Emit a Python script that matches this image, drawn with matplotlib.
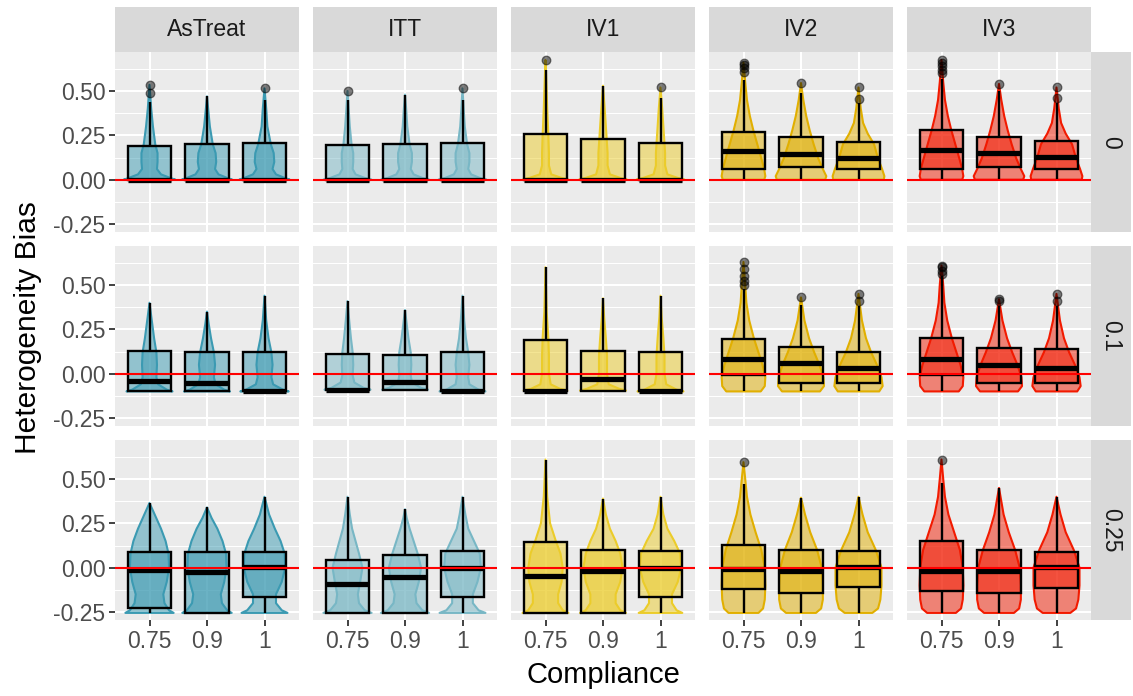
import matplotlib
matplotlib.use("Agg")
import matplotlib.pyplot as plt
from matplotlib.patches import Rectangle, Polygon

plt.rcParams['font.family'] = ['Liberation Sans', 'DejaVu Sans']

methods = ["AsTreat", "ITT", "IV1", "IV2", "IV3"]
het_levels = ["0", "0.1", "0.25"]
compliance = ["0.75", "0.9", "1"]
colors = ["#3B9AB2", "#78B7C5", "#EBCC2A", "#E1AF00", "#F21A00"]

# box stats, [row][method] -> one value per compliance level
wlo = [
    [[0, 0, 0], [0, 0, 0], [0, 0, 0], [0, 0, 0], [0, 0, 0]],
    [[-0.1, -0.1, -0.1], [-0.09, -0.09, -0.1], [-0.095, -0.095, -0.1], [-0.1, -0.1, -0.1], [-0.1, -0.1, -0.1]],
    [[-0.255, -0.255, -0.255]] * 5,
]
q1 = [
    [[0, 0, 0], [0, 0, 0], [0, 0, 0], [0.06, 0.07, 0.06], [0.06, 0.07, 0.06]],
    [[-0.1, -0.1, -0.1], [-0.09, -0.09, -0.1], [-0.095, -0.095, -0.1], [-0.01, -0.05, -0.055], [-0.01, -0.05, -0.055]],
    [[-0.23, -0.255, -0.165], [-0.255, -0.255, -0.165], [-0.255, -0.255, -0.165], [-0.12, -0.145, -0.11], [-0.13, -0.14, -0.115]],
]
med = [
    [[0, 0, 0], [0, 0, 0], [0, 0, 0], [0.16, 0.145, 0.125], [0.17, 0.15, 0.13]],
    [[-0.04, -0.05, -0.1], [-0.09, -0.045, -0.1], [-0.095, -0.03, -0.1], [0.08, 0.06, 0.03], [0.085, 0.05, 0.03]],
    [[-0.015, -0.025, 0.005], [-0.09, -0.05, 0.0], [-0.045, -0.02, 0.0], [-0.01, -0.02, 0.005], [-0.017, -0.017, 0.005]],
]
q3 = [
    [[0.19, 0.20, 0.205], [0.195, 0.20, 0.205], [0.26, 0.23, 0.205], [0.27, 0.24, 0.215], [0.28, 0.24, 0.22]],
    [[0.13, 0.12, 0.12], [0.11, 0.105, 0.12], [0.19, 0.13, 0.12], [0.195, 0.15, 0.125], [0.2, 0.145, 0.14]],
    [[0.09, 0.09, 0.09], [0.045, 0.07, 0.095], [0.145, 0.10, 0.095], [0.13, 0.10, 0.095], [0.148, 0.10, 0.09]],
]
whi = [
    [[0.44, 0.47, 0.45], [0.45, 0.48, 0.45], [0.62, 0.53, 0.46], [0.56, 0.49, 0.43], [0.57, 0.50, 0.43]],
    [[0.40, 0.35, 0.44], [0.41, 0.36, 0.44], [0.60, 0.425, 0.44], [0.48, 0.39, 0.38], [0.55, 0.38, 0.38]],
    [[0.365, 0.34, 0.40], [0.40, 0.33, 0.40], [0.61, 0.39, 0.40], [0.47, 0.395, 0.40], [0.48, 0.45, 0.40]],
]
outliers = [
    [[[0.49, 0.535], [], [0.515]], [[0.50], [], [0.515]], [[0.675], [], [0.52]],
     [[0.61, 0.63, 0.645, 0.66], [0.545], [0.455, 0.52]], [[0.60, 0.62, 0.64, 0.66, 0.675], [0.54], [0.46, 0.52]]],
    [[[], [], []], [[], [], []], [[], [], []],
     [[0.50, 0.52, 0.55, 0.59, 0.63], [0.43], [0.41, 0.45]], [[0.56, 0.58, 0.60, 0.61], [0.41, 0.42], [0.41, 0.45]]],
    [[[], [], []], [[], [], []], [[], [], []], [[0.595], [], []], [[0.61], [], []]],
]

# violin outlines: (values, half widths)
violins = [
    [  # heterogeneity 0
        [([0, 0.01, 0.03, 0.06, 0.10, 0.15, 0.20, 0.30, 0.40, 0.535], [0.45, 0.36, 0.2, 0.13, 0.14, 0.14, 0.10, 0.06, 0.03, 0]),
         ([0, 0.01, 0.03, 0.06, 0.10, 0.15, 0.20, 0.30, 0.40, 0.47], [0.44, 0.35, 0.2, 0.14, 0.16, 0.15, 0.10, 0.05, 0.02, 0]),
         ([0, 0.01, 0.03, 0.06, 0.10, 0.15, 0.20, 0.30, 0.40, 0.515], [0.44, 0.35, 0.2, 0.14, 0.17, 0.16, 0.11, 0.05, 0.03, 0])],
        [([0, 0.01, 0.03, 0.06, 0.10, 0.15, 0.20, 0.30, 0.40, 0.50], [0.42, 0.3, 0.14, 0.09, 0.1, 0.1, 0.07, 0.04, 0.02, 0]),
         ([0, 0.01, 0.03, 0.06, 0.10, 0.15, 0.20, 0.30, 0.40, 0.48], [0.42, 0.3, 0.15, 0.1, 0.12, 0.12, 0.08, 0.04, 0.02, 0]),
         ([0, 0.01, 0.03, 0.06, 0.10, 0.15, 0.20, 0.30, 0.40, 0.515], [0.42, 0.3, 0.15, 0.1, 0.12, 0.12, 0.08, 0.04, 0.02, 0])],
        [([0, 0.01, 0.03, 0.08, 0.15, 0.25, 0.40, 0.55, 0.675], [0.40, 0.28, 0.1, 0.06, 0.06, 0.05, 0.03, 0.015, 0]),
         ([0, 0.01, 0.03, 0.08, 0.15, 0.25, 0.40, 0.53], [0.42, 0.3, 0.12, 0.08, 0.08, 0.06, 0.03, 0]),
         ([0, 0.01, 0.03, 0.08, 0.15, 0.25, 0.40, 0.52], [0.42, 0.3, 0.12, 0.08, 0.08, 0.06, 0.03, 0])],
        [([0, 0.02, 0.06, 0.12, 0.20, 0.28, 0.36, 0.45, 0.55, 0.66], [0.36, 0.38, 0.36, 0.31, 0.24, 0.17, 0.11, 0.06, 0.03, 0]),
         ([0, 0.02, 0.06, 0.12, 0.20, 0.28, 0.36, 0.45, 0.545], [0.42, 0.44, 0.38, 0.3, 0.22, 0.15, 0.09, 0.04, 0]),
         ([0, 0.02, 0.06, 0.12, 0.20, 0.26, 0.32, 0.40, 0.52], [0.44, 0.45, 0.41, 0.34, 0.27, 0.16, 0.08, 0.04, 0])],
        [([0, 0.02, 0.06, 0.12, 0.20, 0.28, 0.36, 0.45, 0.55, 0.675], [0.36, 0.38, 0.36, 0.31, 0.24, 0.17, 0.11, 0.06, 0.03, 0]),
         ([0, 0.02, 0.06, 0.12, 0.20, 0.28, 0.36, 0.45, 0.54], [0.42, 0.44, 0.38, 0.3, 0.22, 0.15, 0.09, 0.04, 0]),
         ([0, 0.02, 0.06, 0.12, 0.20, 0.26, 0.32, 0.40, 0.52], [0.44, 0.45, 0.41, 0.34, 0.27, 0.16, 0.08, 0.04, 0])],
    ],
    [  # heterogeneity 0.1
        [([-0.1, -0.09, -0.06, -0.02, 0.05, 0.12, 0.20, 0.30, 0.40], [0.4, 0.3, 0.15, 0.12, 0.13, 0.12, 0.08, 0.04, 0]),
         ([-0.1, -0.09, -0.06, -0.02, 0.05, 0.12, 0.20, 0.28, 0.35], [0.4, 0.3, 0.15, 0.12, 0.14, 0.12, 0.07, 0.03, 0]),
         ([-0.1, -0.09, -0.06, -0.02, 0.05, 0.12, 0.20, 0.30, 0.44], [0.42, 0.32, 0.15, 0.12, 0.14, 0.12, 0.07, 0.03, 0])],
        [([-0.09, -0.08, -0.05, -0.01, 0.05, 0.12, 0.20, 0.30, 0.41], [0.4, 0.28, 0.12, 0.09, 0.1, 0.09, 0.06, 0.03, 0]),
         ([-0.09, -0.08, -0.05, -0.01, 0.05, 0.12, 0.20, 0.28, 0.36], [0.4, 0.28, 0.12, 0.1, 0.11, 0.1, 0.06, 0.03, 0]),
         ([-0.1, -0.09, -0.06, -0.02, 0.05, 0.12, 0.20, 0.30, 0.44], [0.4, 0.28, 0.12, 0.1, 0.12, 0.1, 0.06, 0.03, 0])],
        [([-0.095, -0.085, -0.06, 0.0, 0.1, 0.2, 0.35, 0.6], [0.38, 0.25, 0.09, 0.06, 0.06, 0.05, 0.02, 0]),
         ([-0.095, -0.085, -0.06, 0.0, 0.1, 0.2, 0.32, 0.425], [0.4, 0.28, 0.1, 0.07, 0.07, 0.05, 0.02, 0]),
         ([-0.1, -0.09, -0.06, 0.0, 0.1, 0.2, 0.32, 0.44], [0.4, 0.28, 0.1, 0.07, 0.07, 0.05, 0.02, 0])],
        [([-0.1, -0.07, -0.02, 0.05, 0.12, 0.20, 0.30, 0.40, 0.50, 0.63], [0.3, 0.37, 0.38, 0.33, 0.26, 0.18, 0.1, 0.05, 0.03, 0]),
         ([-0.1, -0.07, -0.02, 0.05, 0.12, 0.20, 0.30, 0.43], [0.33, 0.4, 0.39, 0.32, 0.23, 0.14, 0.06, 0]),
         ([-0.1, -0.07, -0.02, 0.05, 0.12, 0.20, 0.30, 0.45], [0.36, 0.42, 0.4, 0.32, 0.22, 0.13, 0.06, 0])],
        [([-0.1, -0.07, -0.02, 0.05, 0.12, 0.20, 0.30, 0.40, 0.50, 0.61], [0.3, 0.37, 0.38, 0.33, 0.26, 0.18, 0.1, 0.05, 0.03, 0]),
         ([-0.1, -0.07, -0.02, 0.05, 0.12, 0.20, 0.30, 0.42], [0.33, 0.4, 0.39, 0.32, 0.23, 0.14, 0.06, 0]),
         ([-0.1, -0.07, -0.02, 0.05, 0.12, 0.20, 0.30, 0.45], [0.36, 0.42, 0.4, 0.32, 0.22, 0.13, 0.06, 0])],
    ],
    [  # heterogeneity 0.25
        [([-0.255, -0.24, -0.2, -0.15, -0.08, 0.0, 0.08, 0.15, 0.22, 0.30, 0.365], [0.42, 0.34, 0.26, 0.24, 0.3, 0.34, 0.33, 0.28, 0.2, 0.09, 0]),
         ([-0.255, -0.24, -0.2, -0.15, -0.08, 0.0, 0.08, 0.15, 0.22, 0.28, 0.34], [0.43, 0.35, 0.26, 0.24, 0.3, 0.34, 0.33, 0.27, 0.18, 0.08, 0]),
         ([-0.255, -0.24, -0.2, -0.15, -0.08, 0.0, 0.08, 0.15, 0.22, 0.30, 0.40], [0.4, 0.3, 0.2, 0.2, 0.3, 0.36, 0.35, 0.28, 0.18, 0.08, 0])],
        [([-0.255, -0.24, -0.2, -0.15, -0.08, 0.0, 0.08, 0.15, 0.22, 0.30, 0.40], [0.42, 0.3, 0.2, 0.18, 0.22, 0.26, 0.2, 0.14, 0.08, 0.04, 0]),
         ([-0.255, -0.24, -0.2, -0.15, -0.08, 0.0, 0.08, 0.15, 0.22, 0.28, 0.33], [0.42, 0.3, 0.2, 0.18, 0.24, 0.28, 0.22, 0.15, 0.08, 0.03, 0]),
         ([-0.255, -0.24, -0.2, -0.15, -0.08, 0.0, 0.08, 0.15, 0.22, 0.30, 0.40], [0.4, 0.28, 0.18, 0.18, 0.26, 0.32, 0.3, 0.2, 0.1, 0.05, 0])],
        [([-0.255, -0.24, -0.2, -0.15, -0.08, 0.0, 0.08, 0.15, 0.25, 0.40, 0.61], [0.4, 0.3, 0.22, 0.22, 0.28, 0.3, 0.26, 0.18, 0.08, 0.03, 0]),
         ([-0.255, -0.24, -0.2, -0.15, -0.08, 0.0, 0.08, 0.15, 0.22, 0.30, 0.39], [0.4, 0.3, 0.22, 0.22, 0.3, 0.34, 0.3, 0.22, 0.12, 0.05, 0]),
         ([-0.255, -0.24, -0.2, -0.15, -0.08, 0.0, 0.08, 0.15, 0.22, 0.30, 0.40], [0.38, 0.28, 0.2, 0.2, 0.3, 0.36, 0.34, 0.24, 0.12, 0.05, 0])],
        [([-0.255, -0.23, -0.18, -0.1, 0.0, 0.1, 0.2, 0.3, 0.4, 0.5, 0.595], [0.26, 0.34, 0.37, 0.38, 0.37, 0.31, 0.21, 0.12, 0.06, 0.03, 0]),
         ([-0.255, -0.23, -0.18, -0.1, 0.0, 0.1, 0.2, 0.3, 0.395], [0.26, 0.35, 0.38, 0.38, 0.36, 0.28, 0.16, 0.07, 0]),
         ([-0.255, -0.23, -0.18, -0.1, 0.0, 0.1, 0.2, 0.3, 0.40], [0.24, 0.34, 0.38, 0.4, 0.4, 0.3, 0.16, 0.07, 0])],
        [([-0.255, -0.23, -0.18, -0.1, 0.0, 0.1, 0.2, 0.3, 0.4, 0.5, 0.61], [0.25, 0.34, 0.37, 0.38, 0.37, 0.32, 0.22, 0.12, 0.06, 0.03, 0]),
         ([-0.255, -0.23, -0.18, -0.1, 0.0, 0.1, 0.2, 0.3, 0.45], [0.26, 0.35, 0.38, 0.38, 0.36, 0.28, 0.17, 0.08, 0]),
         ([-0.255, -0.23, -0.18, -0.1, 0.0, 0.1, 0.2, 0.3, 0.40], [0.24, 0.34, 0.38, 0.4, 0.4, 0.3, 0.16, 0.07, 0])],
    ],
]

W, H = 1133, 696
PANEL_L = [115, 313, 511, 709, 907]
PANEL_T = [52, 246, 440]
PW, PH = 184, 180
TICK_COL = "#4D4D4D"


def px_axes(fig, left, top, width, height):
    return fig.add_axes([left / W, 1 - (top + height) / H, width / W, height / H])


def draw_violin(ax, x, ys, ws, color):
    pts = [(x - w, y) for y, w in zip(ys, ws)] + [(x + w, y) for y, w in reversed(list(zip(ys, ws)))]
    ax.add_patch(Polygon(pts, closed=True, facecolor=color, alpha=0.5, edgecolor="none", zorder=2))
    ax.add_patch(Polygon(pts, closed=True, facecolor="none", edgecolor=color, lw=1.5,
                         joinstyle="round", zorder=2.1))


def draw_box(ax, x, lo, a, m, b, hi, outs, color):
    bw = 0.375
    ax.plot([x, x], [b, hi], color="black", lw=1.7, zorder=3, solid_capstyle="butt")
    ax.plot([x, x], [lo, a], color="black", lw=1.7, zorder=3, solid_capstyle="butt")
    ax.add_patch(Rectangle((x - bw, a), 2 * bw, b - a, facecolor=color, alpha=0.5, edgecolor="none", zorder=3))
    ax.add_patch(Rectangle((x - bw, a), 2 * bw, b - a, facecolor="none", edgecolor="black", lw=1.7, zorder=3.1))
    ax.plot([x - bw, x + bw], [m, m], color="black", lw=3.8, zorder=3.2, solid_capstyle="butt")
    if outs:
        ax.plot([x] * len(outs), outs, "o", ms=6.2, mfc="black", mec="black", mew=0.9, alpha=0.5, zorder=4)


def style_panel(ax, r, m):
    ax.set_facecolor("#EBEBEB")
    ax.set_xlim(0.4, 3.6)
    ax.set_ylim(-0.295, 0.72)
    ax.set_yticks([-0.25, 0.0, 0.25, 0.5])
    ax.set_yticks([-0.125, 0.125, 0.375, 0.625], minor=True)
    ax.set_xticks([1, 2, 3])
    ax.grid(True, which="major", color="white", lw=1.5, zorder=0)
    ax.grid(True, which="minor", axis="y", color="white", lw=0.75, zorder=0)
    ax.set_axisbelow(True)
    for s in ax.spines.values():
        s.set_visible(False)
    ax.tick_params(which="minor", length=0)
    ax.tick_params(which="major", length=4, width=1.3, color="#333333", labelsize=16.5,
                   labelcolor=TICK_COL, pad=3)
    if m == 0:
        ax.set_yticklabels(["-0.25", "0.00", "0.25", "0.50"])
    else:
        ax.tick_params(axis="y", length=0, labelleft=False)
    if r == 2:
        ax.set_xticklabels(compliance)
    else:
        ax.tick_params(axis="x", length=0, labelbottom=False)


def main():
    fig = plt.figure(figsize=(W / 100, H / 100), dpi=100)
    fig.patch.set_facecolor("white")

    for r in range(3):
        for m in range(5):
            ax = px_axes(fig, PANEL_L[m], PANEL_T[r], PW, PH)
            style_panel(ax, r, m)
            for c in range(3):
                x = c + 1
                ys, ws = violins[r][m][c]
                draw_violin(ax, x, ys, ws, colors[m])
                draw_box(ax, x, wlo[r][m][c], q1[r][m][c], med[r][m][c], q3[r][m][c],
                         whi[r][m][c], outliers[r][m][c], colors[m])
            ax.axhline(0, color="red", lw=1.5, zorder=5)

    # column strips
    for m in range(5):
        sx = px_axes(fig, PANEL_L[m], 7, PW, 45)
        sx.set_facecolor("#D9D9D9")
        sx.set_xticks([])
        sx.set_yticks([])
        for s in sx.spines.values():
            s.set_visible(False)
        sx.text(0.5, 0.5, methods[m], ha="center", va="center", fontsize=16.5, color="#1A1A1A",
                transform=sx.transAxes)

    # row strips
    for r in range(3):
        sy = px_axes(fig, PANEL_L[4] + PW, PANEL_T[r], 40, PH)
        sy.set_facecolor("#D9D9D9")
        sy.set_xticks([])
        sy.set_yticks([])
        for s in sy.spines.values():
            s.set_visible(False)
        sy.text(0.5, 0.5, het_levels[r], ha="center", va="center", rotation=-90, fontsize=16.5,
                color="#1A1A1A", transform=sy.transAxes)

    mid_x = (PANEL_L[0] + PANEL_L[4] + PW) / 2
    fig.text(mid_x / W, 1 - 675 / H, "Compliance", ha="center", va="center", fontsize=21, color="black")
    fig.text(28 / W, 1 - 328 / H, "Heterogeneity Bias", ha="center", va="center", rotation=90,
             fontsize=21.5, color="black")

    fig.savefig("out.png", dpi=100)


main()
